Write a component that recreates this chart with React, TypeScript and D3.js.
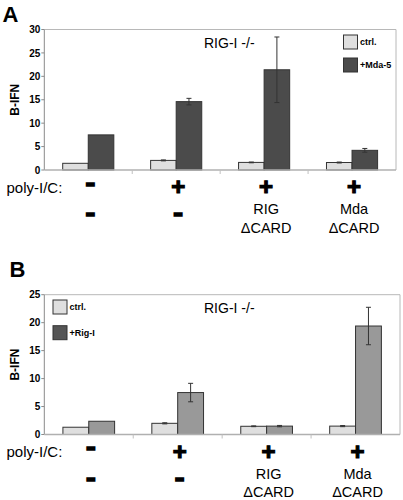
import React from "react";
import * as d3 from "d3";

const categories = ["g1", "g2", "g3", "g4"];
const polyRow = ["-", "+", "+", "+"];
const secondRow = [["-"], ["-"], ["RIG", "\u0394CARD"], ["Mda", "\u0394CARD"]];

const aCtrl = [1.43, 2.05, 1.62, 1.6];
const aCtrlErr = [0, 0.1, 0.08, 0.1];
const aMda = [7.5, 14.6, 21.4, 4.2];
const aMdaErr = [0, 0.7, 7.0, 0.4];
const aTicks = [0, 5, 10, 15, 20, 25, 30];

const bCtrl = [1.3, 2.0, 1.47, 1.5];
const bCtrlErr = [0, 0.1, 0.07, 0.1];
const bRig = [2.37, 7.5, 1.5, 19.4];
const bRigErr = [0, 1.65, 0.12, 3.35];
const bTicks = [0, 5, 10, 15, 20, 25];

const FONT = "'Liberation Sans', Arial, Helvetica, sans-serif";

type PanelProps = {
  letter: string;
  letterX: number;
  letterY: number;
  top: number;
  bottom: number;
  left: number;
  right: number;
  yMax: number;
  ticks: number[];
  ctrl: number[];
  ctrlErr: number[];
  treat: number[];
  treatErr: number[];
  treatFill: string;
  treatLegendFill: string;
  legendLabels: string[];
  legendX: number;
  legendY: number[];
  titleY: number;
};

function Dash({ x, y }: { x: number; y: number }) {
  // y is the visual centre of the dash
  return (
    <text
      x={x}
      y={y + 3.4}
      textAnchor="middle"
      fontFamily={FONT}
      fontWeight="bold"
      fontSize={12}
      stroke="#000"
      strokeWidth={3.2}
      strokeLinejoin="miter"
    >
      {"\u2013"}
    </text>
  );
}

function Panel(p: PanelProps) {
  const x0 = d3.scaleBand<string>().domain(categories).range([p.left, p.right]).padding(0);
  const x1 = d3
    .scaleBand<string>()
    .domain(["ctrl", "treat"])
    .range([0, x0.bandwidth()])
    .paddingInner(0)
    .paddingOuter(0.72);
  const y = d3.scaleLinear().domain([0, p.yMax]).range([p.bottom, p.top]);
  const bw = x1.bandwidth();

  const series = [
    { key: "ctrl", vals: p.ctrl, errs: p.ctrlErr, fill: "#dfdfdf" },
    { key: "treat", vals: p.treat, errs: p.treatErr, fill: p.treatFill },
  ];

  return (
    <g>
      <text x={p.letterX} y={p.letterY} fontFamily={FONT} fontWeight="bold" fontSize={22}>
        {p.letter}
      </text>
      <line x1={p.left} x2={p.right} y1={p.top} y2={p.top} stroke="#b8b8b8" strokeWidth={1} />
      <line x1={p.right} x2={p.right} y1={p.top} y2={p.bottom} stroke="#b8b8b8" strokeWidth={1} />
      <line x1={p.left} x2={p.left} y1={p.top} y2={p.bottom} stroke="#8a8a8a" strokeWidth={1} />
      {p.ticks.map((t) => (
        <g key={t}>
          <line x1={p.left - 3} x2={p.left} y1={y(t)} y2={y(t)} stroke="#8a8a8a" />
          <text
            x={p.left - 4}
            y={y(t) + 3.6}
            textAnchor="end"
            fontFamily={FONT}
            fontWeight="bold"
            fontSize={10}
          >
            {t}
          </text>
        </g>
      ))}
      <text
        transform={`translate(18.5,${(p.top + p.bottom) / 2}) rotate(-90)`}
        textAnchor="middle"
        fontFamily={FONT}
        fontWeight="bold"
        fontSize={12}
      >
        B-IFN
      </text>
      {series.map((s) =>
        categories.map((c, i) => {
          const bx = (x0(c) as number) + (x1(s.key) as number);
          return (
            <rect
              key={s.key + c}
              x={bx}
              y={y(s.vals[i])}
              width={bw}
              height={y(0) - y(s.vals[i])}
              fill={s.fill}
              stroke="#333"
              strokeWidth={1}
            />
          );
        })
      )}
      {series.map((s) =>
        categories.map((c, i) => {
          if (!s.errs[i]) return null;
          const cx = (x0(c) as number) + (x1(s.key) as number) + bw / 2;
          const hi = y(s.vals[i] + s.errs[i]);
          const lo = y(s.vals[i] - s.errs[i]);
          return (
            <g key={"e" + s.key + c} stroke="#333" strokeWidth={1}>
              <line x1={cx} x2={cx} y1={hi} y2={lo} />
              <line x1={cx - 2.5} x2={cx + 2.5} y1={hi} y2={hi} />
              <line x1={cx - 2.5} x2={cx + 2.5} y1={lo} y2={lo} />
            </g>
          );
        })
      )}
      <line x1={p.left} x2={p.right} y1={p.bottom} y2={p.bottom} stroke="#b0b0b0" strokeWidth={1.5} />
      {categories.slice(1).map((c) => (
        <line
          key={"sep" + c}
          x1={x0(c) as number}
          x2={x0(c) as number}
          y1={p.bottom}
          y2={p.bottom + 4}
          stroke="#c0c0c0"
        />
      ))}
      <text x={204} y={p.titleY} fontFamily={FONT} fontSize={14}>
        RIG-I -/-
      </text>
      {[0, 1].map((k) => (
        <g key={"lg" + k}>
          <rect
            x={p.legendX}
            y={p.legendY[k]}
            width={14}
            height={14}
            fill={k === 0 ? "#dfdfdf" : p.treatLegendFill}
            stroke="#333"
          />
          <text
            x={p.legendX + 16.5}
            y={p.legendY[k] + 10}
            fontFamily={FONT}
            fontWeight="bold"
            fontSize={9}
          >
            {p.legendLabels[k]}
          </text>
        </g>
      ))}
      <text x={6.5} y={p.bottom + 22.7} fontFamily={FONT} fontSize={15}>
        poly-I/C:
      </text>
      {categories.map((c, i) => {
        const cx = (x0(c) as number) + x0.bandwidth() / 2 + 2;
        const sign = polyRow[i];
        return (
          <g key={"lab" + c}>
            {sign === "+" ? (
              <text
                x={cx}
                y={p.bottom + 25.4}
                textAnchor="middle"
                fontFamily={FONT}
                fontWeight="bold"
                fontSize={24}
                stroke="#000"
                strokeWidth={1.2}
              >
                +
              </text>
            ) : (
              <Dash x={cx} y={p.bottom + 14.5} />
            )}
            {secondRow[i].length === 1 ? (
              <Dash x={cx} y={p.bottom + 45} />
            ) : (
              secondRow[i].map((t, j) => (
                <text
                  key={t}
                  x={cx}
                  y={p.bottom + 44.3 + j * 18.4}
                  textAnchor="middle"
                  fontFamily={FONT}
                  fontSize={14.5}
                >
                  {t}
                </text>
              ))
            )}
          </g>
        );
      })}
    </g>
  );
}

export default function App() {
  return (
    <svg
      width={403}
      height={500}
      viewBox="0 0 403 500"
      style={{ position: "absolute", left: 0, top: 0, background: "#fff" }}
    >
      <rect width={403} height={500} fill="#fff" />
      <Panel
        letter="A"
        letterX={2.5}
        letterY={21.7}
        top={29.5}
        bottom={170}
        left={44.3}
        right={396}
        yMax={30}
        ticks={aTicks}
        ctrl={aCtrl}
        ctrlErr={aCtrlErr}
        treat={aMda}
        treatErr={aMdaErr}
        treatFill="#4b4b4b"
        treatLegendFill="#4b4b4b"
        legendLabels={["ctrl.", "+Mda-5"]}
        legendX={343.5}
        legendY={[35, 58]}
        titleY={48.3}
      />
      <Panel
        letter="B"
        letterX={9.5}
        letterY={276.7}
        top={294.7}
        bottom={434.5}
        left={44.3}
        right={400}
        yMax={25}
        ticks={bTicks}
        ctrl={bCtrl}
        ctrlErr={bCtrlErr}
        treat={bRig}
        treatErr={bRigErr}
        treatFill="#999999"
        treatLegendFill="#555555"
        legendLabels={["ctrl.", "+Rig-I"]}
        legendX={53}
        legendY={[300, 325.7]}
        titleY={313.3}
      />
    </svg>
  );
}
